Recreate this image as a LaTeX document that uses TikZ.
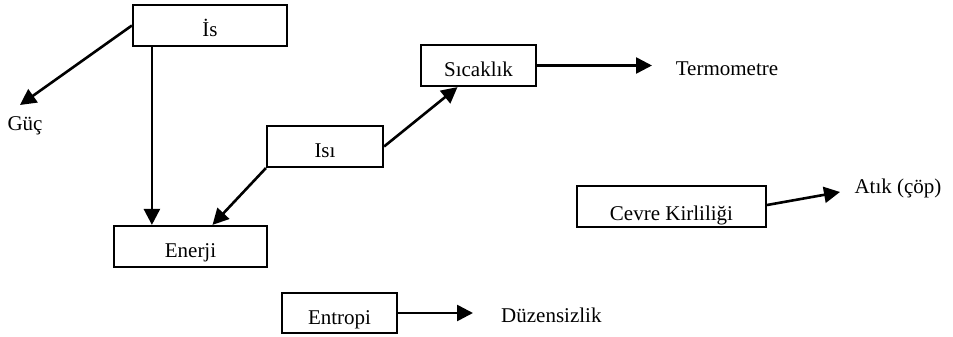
\documentclass[tikz,border=0pt]{standalone}
\usepackage{fontspec}
\setmainfont{Liberation Serif}
\usetikzlibrary{arrows.meta}
\begin{document}
\begin{tikzpicture}[x=1pt,y=-1pt,
  txt/.style={font=\fontsize{21}{24}\selectfont},
  box/.style={txt,draw,line width=2.2pt,minimum height=41pt,inner sep=0pt,text height=22pt,text depth=0pt},
  lbl/.style={txt,inner sep=0pt},
  ln/.style={line width=2.6pt},
  arr/.style={ln,-{Triangle[length=16pt,width=16pt]}}]
\useasboundingbox (0,0) rectangle (953,337);
% boxes
\node[box,minimum width=154pt] (is) at (210,25.5) {İs};
\node[box,minimum width=153pt] (enerji) at (190.5,246.5) {Enerji};
\node[box,minimum width=116pt] (isi) at (325,146.5) {Isı};
\node[box,minimum width=115pt] (sicaklik) at (478.5,65.5) {Sıcaklık};
\node[box,minimum width=189pt,text height=28pt] (cevre) at (671.5,206.5) {Cevre Kirliliği};
\node[box,minimum width=115pt,minimum height=40pt] (entropi) at (339.5,313) {Entropi};
% free labels
\node[lbl,anchor=base] (guc) at (25,130) {Güç};
\node[lbl,anchor=base] (termometre) at (727,75) {Termometre};
\node[lbl,anchor=base] (atik) at (898,193) {Atık (çöp)};
\node[lbl,anchor=base west] (duzen) at (501,322) {Düzensizlik};
% arrow tips
\coordinate (guctip) at (20,105);
\coordinate (termtip) at (652,65.5);
\coordinate (atiktip) at (840,192);
\coordinate (duztip) at (473,313);
% connectors
\draw[arr] (is.west) -- (guctip);
\draw[arr] ([xshift=20pt]is.south west) -- ([xshift=20pt]is.south west |- enerji.north);
\draw[arr] (isi.south west) -- ([xshift=22pt]enerji.north);
\draw[arr] (isi.east) -- ([xshift=-21pt]sicaklik.south);
\draw[arr] (sicaklik.east) -- (termtip);
\draw[arr] ([yshift=1.5pt]cevre.east) -- (atiktip);
\draw[arr] (entropi.east) -- (duztip);
\end{tikzpicture}
\end{document}
